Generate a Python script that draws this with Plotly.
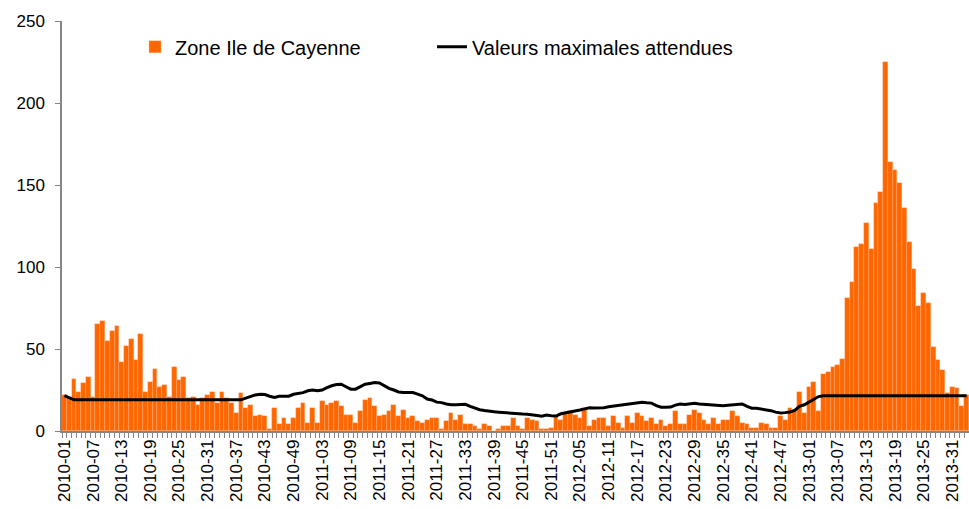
import plotly.graph_objects as go

# ---- data -------------------------------------------------------------
years = [2010, 2011, 2012, 2013]
weeks_per_year = [52, 52, 52, 34]

cases_2010 = [22, 21, 32, 24, 29, 33, 21, 65, 67, 55, 61, 64, 42, 52, 56, 43, 59, 24, 30, 38,
              27, 28, 21, 39, 31, 33, 20, 21, 16, 20, 22, 24, 17, 24, 20, 17, 11, 23, 14, 16,
              9, 10, 9, 1, 14, 4, 8, 4, 8, 14, 17, 5]
cases_2011 = [14, 5, 18, 16, 17, 18, 15, 10, 10, 5, 12, 19, 20, 15, 9, 10, 12, 16, 9, 13,
              8, 9, 6, 5, 7, 8, 8, 1, 6, 11, 7, 10, 4, 4, 3, 1, 4, 3, 0, 1,
              3, 3, 8, 3, 1, 8, 7, 6, 1, 1, 2, 9]
cases_2012 = [7, 11, 12, 10, 8, 14, 3, 7, 8, 8, 3, 9, 5, 2, 9, 5, 11, 9, 6, 8,
              4, 7, 3, 4, 12, 4, 4, 10, 13, 11, 7, 4, 8, 4, 7, 7, 12, 9, 5, 4,
              2, 2, 5, 4, 2, 2, 9, 7, 14, 12, 24, 11]
cases_2013 = [27, 30, 12, 35, 36, 39, 40, 44, 81, 91, 112, 114, 127, 111, 139, 146, 225, 164,
              159, 151, 136, 115, 99, 76, 84, 78, 51, 43, 37, 23, 27, 26, 15, 22]

max_2010 = [21.5, 20, 19] + [19] * 35 + [20, 21, 22, 22.4, 22.2, 21.2, 20.5, 21.2, 21.3, 21.2,
                                        22.4, 23, 23.4, 24.5]
max_2011 = [25, 24.5, 25, 26.4, 27.6, 28.3, 28.5, 27, 25.5, 25.5,
            27, 28.5, 29, 29.5, 29.3, 27.5, 26, 25, 23.8, 23.5,
            23.5, 23.4, 22.5, 21.5, 19.5, 18.9, 17.6, 17.3, 16.5, 16,
            16, 16.3, 16.3, 15, 14, 13, 12.5, 12, 11.8, 11.5,
            11.2, 11, 10.8, 10.4, 10.3, 10.2, 10, 9.4, 9, 9.8,
            9.3, 9.1]
max_2012 = [10.5, 11, 11.4, 12.3, 12.8, 13.5, 14.2, 14, 14, 14.2,
            14.8, 15.2, 15.6, 16.1, 16.5, 16.9, 17.3, 17.5, 17.2, 17,
            15.5, 14.5, 14.5, 14.6, 15.8, 16.5, 16.2, 16.5, 16.9, 16.5,
            16.3, 16.3, 16, 15.6, 15.4, 15.7, 15.9, 16.3, 16.5, 15,
            13.9, 13.8, 13.4, 13, 12.4, 11.5, 11, 11.2, 11.6, 12.5,
            15, 16]
max_2013 = [17.5, 19.5, 21] + [21.5] * 31

y_ticks = [0, 50, 100, 150, 200, 250]
label_step = 6

# ---- assemble ---------------------------------------------------------
weeks = [f"{y}-{w:02d}" for y, n in zip(years, weeks_per_year) for w in range(1, n + 1)]
cases = cases_2010 + cases_2011 + cases_2012 + cases_2013
maxima = max_2010 + max_2011 + max_2012 + max_2013
pos = list(range(len(weeks)))

fig = go.Figure()
fig.add_trace(go.Bar(
    x=pos, y=cases, name="Zone Ile de Cayenne",
    marker=dict(color="#FF6600", line=dict(color="rgba(255,190,150,0.6)", width=0.5)),
))
fig.add_trace(go.Scatter(
    x=pos, y=maxima, name="Valeurs maximales attendues", mode="lines",
    line=dict(color="black", width=3), legendwidth=300,
))

fig.update_layout(
    width=969, height=509,
    margin=dict(l=62, r=0, t=21, b=78, autoexpand=False),
    paper_bgcolor="white", plot_bgcolor="white",
    bargap=0,
    font=dict(family="Liberation Sans, Arial, sans-serif", color="black"),
    showlegend=True,
    legend=dict(orientation="h", x=(135 - 62) / 907, xanchor="left", y=0.937, yanchor="middle",
                font=dict(size=20), entrywidth=252, bgcolor="rgba(0,0,0,0)",
                traceorder="normal"),
)
fig.update_xaxes(
    range=[-0.5, len(weeks) - 0.5],
    tickmode="array", tickvals=pos[::label_step], ticktext=weeks[::label_step],
    tickangle=-90, tickfont=dict(size=17),
    ticks="", showline=True, linecolor="#868686", linewidth=1.5,
    minor=dict(ticks="outside", tickmode="linear", tick0=-0.5, dtick=1,
               ticklen=5, tickcolor="#868686", tickwidth=1),
    showgrid=False, zeroline=False,
)
fig.update_yaxes(
    range=[0, 250], tickmode="array", tickvals=y_ticks,
    tickfont=dict(size=17), ticks="outside", ticklen=5, tickcolor="#868686",
    ticklabelstandoff=7,
    showline=True, linecolor="#868686", linewidth=1.5,
    showgrid=False, zeroline=False,
)

fig.write_html("out.html", config={"displayModeBar": False},
               post_script="document.body.style.margin='0';")
